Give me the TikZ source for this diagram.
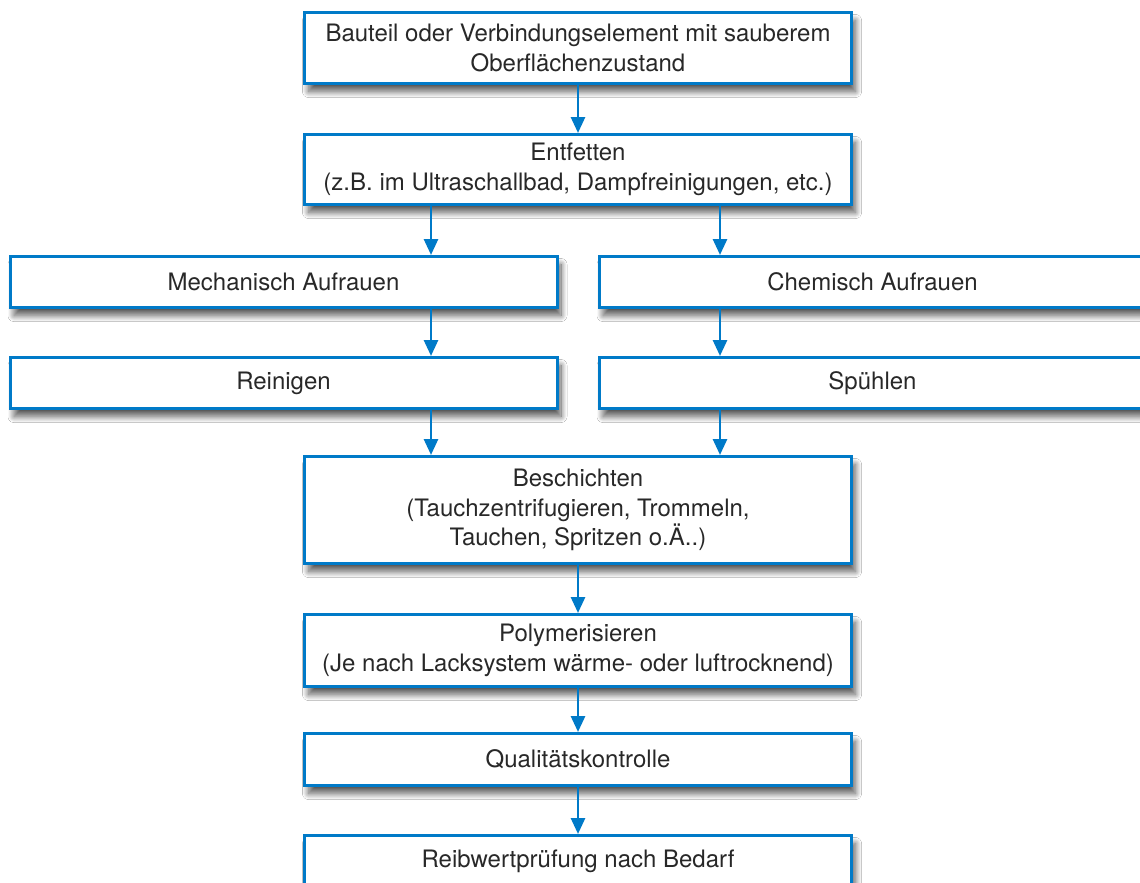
\documentclass[tikz,border=0pt]{standalone}
\usepackage{fontspec}
\setmainfont{TeX Gyre Heros}
\usetikzlibrary{arrows.meta,shadows.blur}
\definecolor{flowblue}{RGB}{0,122,200}
\definecolor{txtgray}{RGB}{40,40,40}
\tikzset{
  stepbox/.style={draw=flowblue, line width=3pt, fill=white, rectangle,
    minimum width=547pt, align=center, text=txtgray, inner sep=0pt,
    font=\fontsize{24}{29.5}\selectfont,
    blur shadow={shadow xshift=4pt, shadow yshift=-8pt, shadow blur radius=6pt, shadow blur steps=20, shadow opacity=65}},
  arr/.style={draw=flowblue, line width=2.8pt, -{Triangle[width=14pt,length=16pt]}}
}
\begin{document}
\begin{tikzpicture}[x=1pt,y=-1pt]
\clip (0,0) rectangle (1140,883);
\fill[white] (0,0) rectangle (1140,883);
\coordinate (lx) at (431,0);
\coordinate (cx) at (578,0);
\coordinate (rx) at (720,0);
\node[stepbox, minimum height=71pt] (top) at (578,48) {Bauteil oder Verbindungselement mit sauberem\\Oberflächenzustand};
\node[stepbox, minimum height=70pt] (entf) at (578,169.5) {Entfetten\\(z.B. im Ultraschallbad, Dampfreinigungen, etc.)};
\node[stepbox, minimum height=51pt] (mech) at (283.5,282) {Mechanisch Aufrauen};
\node[stepbox, minimum height=51pt] (chem) at (872.5,282) {Chemisch Aufrauen};
\node[stepbox, minimum height=51pt] (rein) at (283.5,383) {Reinigen};
\node[stepbox, minimum height=51pt] (spuh) at (872.5,383) {Spühlen};
\node[stepbox, minimum height=107pt] (besch) at (578,510) {Beschichten\\(Tauchzentrifugieren, Trommeln,\\Tauchen, Spritzen o.Ä..)};
\node[stepbox, minimum height=72pt] (poly) at (578,650.5) {Polymerisieren\\(Je nach Lacksystem wärme- oder luftrocknend)};
\node[stepbox, minimum height=52pt] (qual) at (578,759.5) {Qualitätskontrolle};
\node[stepbox, minimum height=52pt] (reib) at (578,861.5) {Reibwertprüfung nach Bedarf};
\draw[arr] (top.south -| cx) -- (entf.north -| cx);
\draw[arr] (entf.south -| lx) -- (mech.north -| lx);
\draw[arr] (entf.south -| rx) -- (chem.north -| rx);
\draw[arr] (mech.south -| lx) -- (rein.north -| lx);
\draw[arr] (chem.south -| rx) -- (spuh.north -| rx);
\draw[arr] (rein.south -| lx) -- (besch.north -| lx);
\draw[arr] (spuh.south -| rx) -- (besch.north -| rx);
\draw[arr] (besch.south -| cx) -- (poly.north -| cx);
\draw[arr] (poly.south -| cx) -- (qual.north -| cx);
\draw[arr] (qual.south -| cx) -- (reib.north -| cx);
\end{tikzpicture}
\end{document}
